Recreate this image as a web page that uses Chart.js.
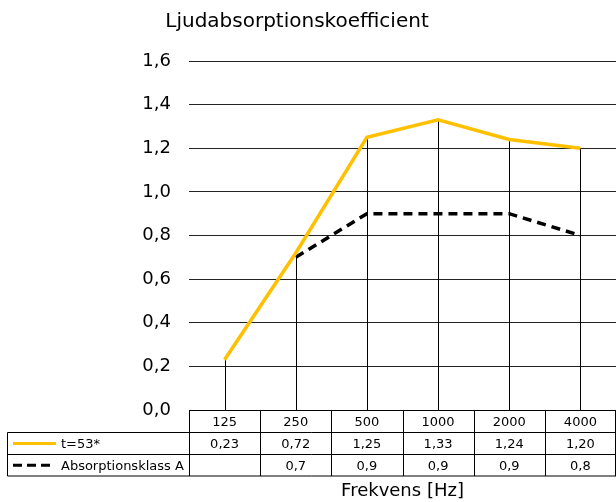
<!DOCTYPE html>
<html>
<head>
<meta charset="utf-8">
<script src="https://cdn.jsdelivr.net/npm/chart.js@4/dist/chart.umd.min.js"></script>
<style>
  html,body{margin:0;padding:0;background:#fff;}
  #wrap{width:616px;height:502px;}
</style>
</head>
<body>
<div id="wrap"><canvas id="chart" width="616" height="502"></canvas></div>
<script>
const frequencies = ['125','250','500','1000','2000','4000'];
const seriesT53 = [0.23, 0.72, 1.25, 1.33, 1.24, 1.20];
const seriesKlassA = [null, 0.7, 0.9, 0.9, 0.9, 0.8];
const labelT53 = 't=53*';
const labelKlassA = 'Absorptionsklass A';
const yTicks = [0, 0.2, 0.4, 0.6, 0.8, 1.0, 1.2, 1.4, 1.6];
const chartTitle = 'Ljudabsorptionskoefficient';
const xTitle = 'Frekvens [Hz]';

const FONT = "'DejaVu Sans', Verdana, sans-serif";
const fmt = (v, d)=> v==null ? '' : v.toFixed(d).replace('.', ',');
// how many decimals the source table uses per row
const decT53 = 2, decKlassA = 1;

// vertical drop lines from the series down to the axis
const dropLines = {
  id:'dropLines',
  beforeDatasetsDraw(chart){
    const {ctx, scales:{x, y}} = chart;
    ctx.save();
    ctx.strokeStyle = '#000'; ctx.lineWidth = 1;
    frequencies.forEach((f, i)=>{
      const vals = [seriesKlassA[i], seriesT53[i]].filter(v=>v!=null);
      const top = i===1 ? Math.min(...vals) : seriesT53[i];
      const px = Math.round(x.getPixelForValue(i)) + 0.5;
      ctx.beginPath();
      ctx.moveTo(px, y.getPixelForValue(0));
      ctx.lineTo(px, y.getPixelForValue(top));
      ctx.stroke();
    });
    ctx.restore();
  }
};

// title, data table under the plot, axis title
const dataTable = {
  id:'dataTable',
  afterDraw(chart){
    const {ctx, chartArea:a, scales:{x}} = chart;
    const rows = [a.bottom, 432.5, 454.5, 476];
    const colW = (a.right - a.left) / frequencies.length;
    const leftX = 7.5;
    ctx.save();

    ctx.fillStyle = '#000';
    ctx.font = '20px ' + FONT;
    ctx.textAlign = 'center'; ctx.textBaseline = 'middle';
    ctx.fillText(chartTitle, 297, 22);

    ctx.strokeStyle = '#000'; ctx.lineWidth = 1;
    ctx.beginPath();
    ctx.moveTo(a.left + 0.5, rows[0] + 0.5); ctx.lineTo(a.right, rows[0] + 0.5);
    ctx.moveTo(leftX, rows[1]); ctx.lineTo(a.right, rows[1]);
    ctx.moveTo(leftX, rows[2]); ctx.lineTo(a.right, rows[2]);
    ctx.moveTo(leftX, rows[3]); ctx.lineTo(a.right, rows[3]);
    ctx.moveTo(leftX, rows[1]); ctx.lineTo(leftX, rows[3]);
    for(let i=0;i<=frequencies.length;i++){
      const cx = Math.min(Math.round(a.left + i*colW) + 0.5, a.right - 0.5);
      ctx.moveTo(cx, rows[0]); ctx.lineTo(cx, rows[3]);
    }
    ctx.stroke();

    ctx.font = '13px ' + FONT;
    frequencies.forEach((f, i)=>{
      const cx = x.getPixelForValue(i);
      ctx.fillText(f, cx, (rows[0]+rows[1])/2 + 1);
      ctx.fillText(fmt(seriesT53[i], decT53), cx, (rows[1]+rows[2])/2 + 1);
      ctx.fillText(fmt(seriesKlassA[i], decKlassA), cx, (rows[2]+rows[3])/2 + 1);
    });

    // legend keys
    const y1 = (rows[1]+rows[2])/2, y2 = (rows[2]+rows[3])/2;
    ctx.lineWidth = 3;
    ctx.strokeStyle = '#FFC000';
    ctx.beginPath(); ctx.moveTo(13, y1); ctx.lineTo(56, y1); ctx.stroke();
    ctx.strokeStyle = '#000'; ctx.setLineDash([9,5]);
    ctx.beginPath(); ctx.moveTo(13, y2); ctx.lineTo(52, y2); ctx.stroke();
    ctx.setLineDash([]);
    ctx.textAlign = 'left';
    ctx.fillText(labelT53, 61, y1 + 1);
    ctx.fillText(labelKlassA, 61, y2 + 1);

    ctx.font = '18px ' + FONT;
    ctx.textAlign = 'center';
    ctx.fillText(xTitle, (a.left + a.right)/2, 491);
    ctx.restore();
  }
};

new Chart(document.getElementById('chart'), {
  type:'line',
  data:{
    labels: frequencies,
    datasets:[
      { label: labelT53, data: seriesT53, borderColor:'#FFC000', borderWidth:3.5,
        pointRadius:0, tension:0, order:1 },
      { label: labelKlassA, data: seriesKlassA, borderColor:'#000', borderWidth:3.5,
        borderDash:[9,6], pointRadius:0, tension:0, order:2 }
    ]
  },
  options:{
    responsive:false,
    animation:false,
    devicePixelRatio:1,
    layout:{ padding:{ top:61, right:0, bottom:92, left:0 } },
    plugins:{
      legend:{ display:false },
      tooltip:{ enabled:false },
      title:{ display:false }
    },
    scales:{
      x:{ display:false, offset:true },
      y:{
        min:0, max:1.6,
        afterFit(s){ s.width = 189; },
        afterBuildTicks(s){ s.ticks = yTicks.map(v=>({value:v})); },
        border:{ display:false },
        grid:{ color:'#222', lineWidth:1, drawTicks:false },
        ticks:{
          color:'#000', padding:18,
          font:{ family:FONT, size:18 },
          callback:(v)=> fmt(v, 1)
        }
      }
    }
  },
  plugins:[dropLines, dataTable]
});
</script>
</body>
</html>
